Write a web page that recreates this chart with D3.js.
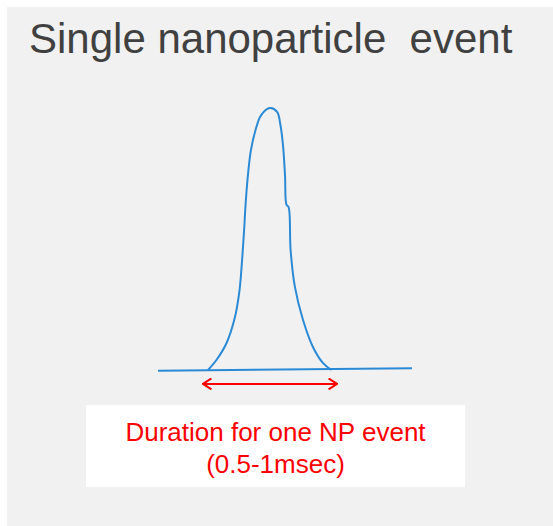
<!DOCTYPE html>
<html>
<head>
<meta charset="utf-8">
<script src="https://cdn.jsdelivr.net/npm/d3@7"></script>
<style>
  html, body { margin: 0; padding: 0; background: #fff; }
  svg { display: block; font-family: "Liberation Sans", Arial, sans-serif; }
</style>
</head>
<body>
<div id="chartEl"></div>
<script>
// pulse shape, time in arbitrary units, signal normalised to peak = 1
const peakT = [1.97, 2.30, 2.70, 3.03, 3.21, 3.31, 3.39, 3.46, 3.56, 3.66, 3.84, 4.06, 4.41,
               4.69, 4.82, 4.92, 5.00, 5.06, 5.14, 5.22, 5.39, 5.71, 6.10, 6.50, 6.83];
const peakV = [0.0, 0.038, 0.103, 0.202, 0.305, 0.420, 0.534, 0.649, 0.763, 0.840, 0.916, 0.973, 1.0,
               0.985, 0.935, 0.859, 0.744, 0.630, 0.622, 0.458, 0.317, 0.191, 0.088, 0.026, 0.0];
const baseT = [0, 10];
const baseV = [-0.003, 0.007];
// duration arrow (start, end) and its level
const arrowT = [1.77, 7.05];
const arrowV = -0.053;

const titleText = 'Single nanoparticle\u00a0 event';
const labelLines = ['Duration for one NP event', '(0.5-1msec)'];

const width = 553;
const height = 526;
const blue = '#2b8ad6';
const red = '#ff0000';

const svg = d3.select('#chartEl').append('svg')
  .attr('width', width)
  .attr('height', height);

svg.append('rect')
  .attr('x', 7).attr('y', 7)
  .attr('width', width - 7).attr('height', height - 7)
  .attr('fill', '#f1f1f1');

svg.append('text')
  .attr('x', 29)
  .attr('y', 53)
  .attr('font-size', 42)
  .attr('fill', '#404040')
  .text(titleText);

const x = d3.scaleLinear().domain([0, 10]).range([158, 412]);
const y = d3.scaleLinear().domain([0, 1]).range([370, 108]);

const line = d3.line()
  .x(d => x(d[0]))
  .y(d => y(d[1]))
  .curve(d3.curveCatmullRom.alpha(0.5));

svg.append('path')
  .datum(d3.zip(baseT, baseV))
  .attr('d', d3.line().x(d => x(d[0])).y(d => y(d[1])))
  .attr('fill', 'none')
  .attr('stroke', blue)
  .attr('stroke-width', 2);

svg.append('path')
  .datum(d3.zip(peakT, peakV))
  .attr('d', line)
  .attr('fill', 'none')
  .attr('stroke', blue)
  .attr('stroke-width', 2);

// arrow with open chevron heads
const defs = svg.append('defs');
defs.append('marker')
  .attr('id', 'head')
  .attr('viewBox', '0 0 10 12')
  .attr('refX', 9.5).attr('refY', 6)
  .attr('markerWidth', 10).attr('markerHeight', 12)
  .attr('markerUnits', 'userSpaceOnUse')
  .attr('orient', 'auto-start-reverse')
  .append('path')
  .attr('d', 'M1,0.5 L9.5,6 L1,11.5')
  .attr('fill', 'none')
  .attr('stroke', red)
  .attr('stroke-width', 2);

svg.append('line')
  .attr('x1', x(arrowT[0])).attr('x2', x(arrowT[1]))
  .attr('y1', y(arrowV)).attr('y2', y(arrowV))
  .attr('stroke', red)
  .attr('stroke-width', 2)
  .attr('marker-start', 'url(#head)')
  .attr('marker-end', 'url(#head)');

svg.append('rect')
  .attr('x', 86).attr('y', 405)
  .attr('width', 379).attr('height', 82)
  .attr('fill', '#ffffff');

svg.append('g')
  .selectAll('text')
  .data(labelLines)
  .enter().append('text')
  .attr('x', 275.5)
  .attr('y', (d, i) => 441 + i * 32)
  .attr('text-anchor', 'middle')
  .attr('font-size', 26)
  .attr('fill', red)
  .text(d => d);
</script>
</body>
</html>
